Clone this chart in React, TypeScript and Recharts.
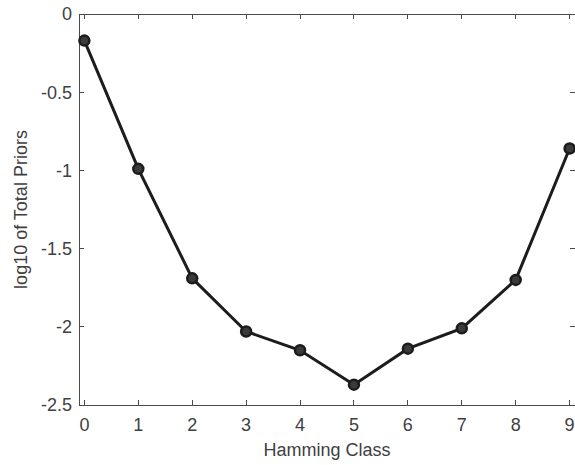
import { LineChart, Line, XAxis, YAxis, ReferenceLine } from "recharts";

const hammingClass = [0, 1, 2, 3, 4, 5, 6, 7, 8, 9];
const logPriors = [-0.17, -0.99, -1.69, -2.03, -2.15, -2.37, -2.14, -2.01, -1.7, -0.86];
const xTicks = [0, 1, 2, 3, 4, 5, 6, 7, 8, 9];
const yTicks = [-2.5, -2, -1.5, -1, -0.5, 0];

const data = hammingClass.map((h, i) => ({ h, v: logPriors[i] }));

const axisColor = "#4a4a4a";
const textColor = "#404040";
const font = "'Liberation Sans', Arial, sans-serif";

const W = 575;
const H = 465;
const M = { top: 14, right: 0, bottom: 0, left: 0 };
const X_AXIS_H = 60;
const Y_AXIS_W = 79;
const PLOT_H = H - M.top - X_AXIS_H;
const PLOT_W = W - Y_AXIS_W;
const TICK = 5;

// MATLAB-style inward ticks, repeated on the opposite side of the box
function BottomTick(props: any) {
  const { x, y, payload } = props;
  return (
    <g shapeRendering="crispEdges">
      <line x1={x} x2={x} y1={y} y2={y - TICK} stroke={axisColor} />
      <line x1={x} x2={x} y1={y - PLOT_H} y2={y - PLOT_H + TICK} stroke={axisColor} />
      <text x={x} y={y + 26} textAnchor="middle" fill={textColor} fontSize={18}>
        {payload.value}
      </text>
    </g>
  );
}

function LeftTick(props: any) {
  const { x, y, payload } = props;
  return (
    <g shapeRendering="crispEdges">
      <line x1={x} x2={x + TICK} y1={y} y2={y} stroke={axisColor} />
      <line x1={x + PLOT_W - TICK} x2={x + PLOT_W} y1={y} y2={y} stroke={axisColor} />
      <text x={x - 7} y={y} dy="0.36em" textAnchor="end" fill={textColor} fontSize={18}>
        {payload.value}
      </text>
    </g>
  );
}

export default function App() {
  return (
    <div style={{ position: "absolute", left: 0, top: 0, background: "#fff" }}>
      <LineChart width={W} height={H} data={data} margin={M} style={{ fontFamily: font }}>
        <XAxis
          dataKey="h"
          type="number"
          domain={[-0.1, 9.1]}
          ticks={xTicks}
          tickSize={0}
          tickMargin={0}
          tickLine={false}
          height={X_AXIS_H}
          axisLine={{ stroke: axisColor, shapeRendering: "crispEdges" }}
          tick={<BottomTick />}
          label={{ value: "Hamming Class", position: "insideBottom", offset: 9, fill: textColor, fontSize: 18 }}
        />
        <YAxis
          type="number"
          domain={[-2.5, 0]}
          ticks={yTicks}
          tickSize={0}
          tickMargin={0}
          tickLine={false}
          width={Y_AXIS_W}
          axisLine={{ stroke: axisColor, shapeRendering: "crispEdges" }}
          tick={<LeftTick />}
          label={{ value: "log10 of Total Priors", angle: -90, position: "insideLeft", offset: 21, fill: textColor, fontSize: 18, style: { textAnchor: "middle" } }}
        />
        <ReferenceLine y={0} stroke={axisColor} shapeRendering="crispEdges" />
        <Line
          dataKey="v"
          stroke="#1c1c1c"
          strokeWidth={3}
          dot={{ r: 5, stroke: "#1c1c1c", strokeWidth: 2.5, fill: "#3a3a3a" }}
          isAnimationActive={false}
        />
      </LineChart>
    </div>
  );
}
